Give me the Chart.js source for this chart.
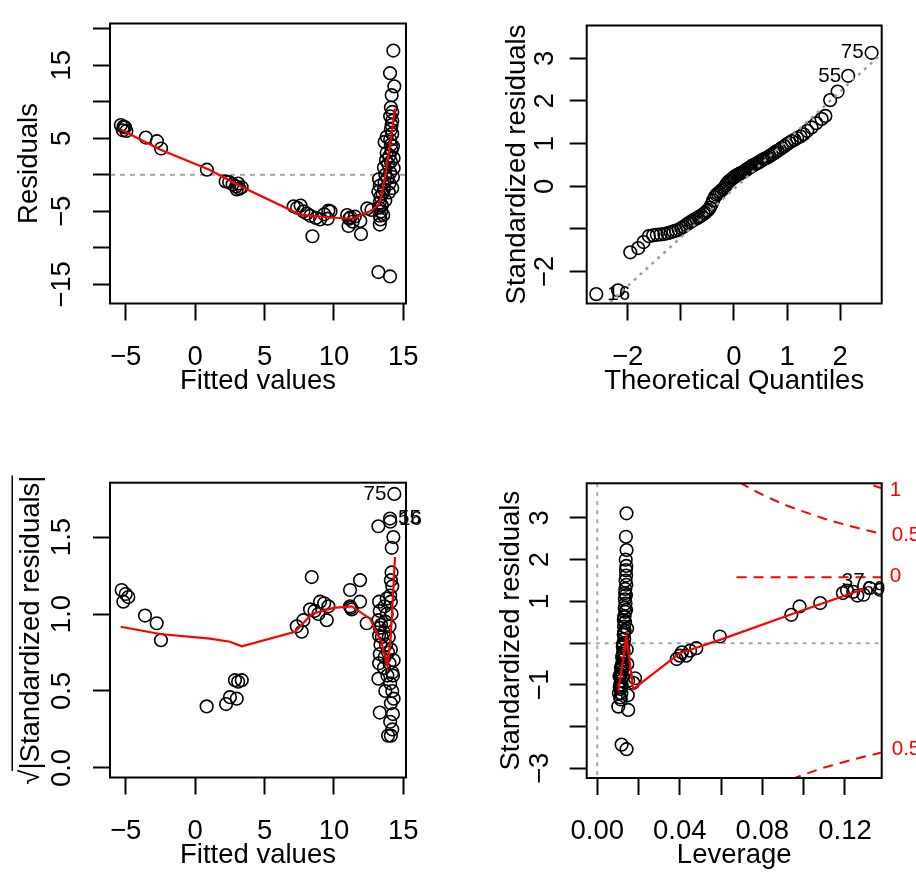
<!DOCTYPE html>
<html lang="en">
<head>
<meta charset="UTF-8">
<title>lm diagnostic plots</title>
<script src="https://cdn.jsdelivr.net/npm/chart.js@4.4.1/dist/chart.umd.min.js"></script>
<style>
  html, body { margin: 0; padding: 0; background: #fff; }
  #wrap { position: relative; width: 916px; height: 877px; overflow: hidden; }
  canvas { position: absolute; }
</style>
</head>
<body>
<div id="wrap">
  <canvas id="p1" width="458" height="438" style="left:0px;top:0px"></canvas>
  <canvas id="p2" width="458" height="438" style="left:458px;top:0px"></canvas>
  <canvas id="p3" width="458" height="439" style="left:0px;top:438px"></canvas>
  <canvas id="p4" width="458" height="439" style="left:458px;top:438px"></canvas>
</div>
<script>
// --- Residuals vs Fitted ---
const fitted1 = [-5.35, -5.2, -5.05, -4.95, -5.15, -3.55, -2.75, -2.45, 0.85, 2.2, 2.45, 2.7, 2.95, 3.1, 3.2, 3.0, 3.35,
  7.1, 7.35, 7.6, 7.8, 8.05, 8.3, 8.45, 8.7, 9.0, 9.3, 9.55, 9.75, 9.6, 10.95, 11.1, 11.2, 11.35, 11.05, 11.5,
  11.9, 11.95, 12.4, 12.7,
  13.25, 13.3, 13.2, 13.35, 13.3, 13.25, 13.4, 13.3, 13.35, 13.3, 13.45, 13.5, 13.55,
  13.6, 13.65, 13.7, 13.6, 13.75, 13.7, 13.8, 13.85, 13.9, 13.65, 13.8,
  13.95, 14.0, 14.05, 14.1, 14.0, 14.15, 14.1, 14.05, 14.2, 14.1, 14.15, 14.2, 14.05, 14.2, 14.1, 14.25, 14.3, 14.2, 14.3, 14.25,
  14.28, 14.04, 14.35, 14.16, 13.2, 14.04];
const resid1 = [6.8, 6.1, 6.5, 6.0, 6.6, 5.1, 4.6, 3.6, 0.7, -0.9, -1.0, -1.3, -1.6, -1.2, -1.9, -2.0, -1.7,
  -4.3, -4.5, -4.2, -5.0, -5.3, -5.6, -8.4, -5.9, -6.1, -5.4, -6.0, -5.0, -4.9, -5.5, -6.0, -5.8, -6.4, -7.0, -5.7,
  -6.3, -8.1, -4.6, -4.8,
  -0.6, -1.5, -2.3, -3.0, -3.8, -4.5, -5.0, -5.6, -6.1, -6.8, -4.2, -2.6, -5.5,
  -2.0, -1.0, 0.0, 1.0, 2.0, -3.5, 3.0, -0.5, 1.5, 4.5, 5.2,
  -2.4, -1.2, 0.3, 1.8, 2.6, 3.4, 4.1, 4.8, 5.6, 6.2, 6.8, 7.4, 8.0, 8.6, 9.2, -0.3, 0.9, -1.8, 2.3, 3.9,
  17.0, 13.9, 12.1, 10.9, -13.3, -13.9];
const smoothX1 = [-5.36, -2.53, 1.07, 3.23, 7.56, 9.96, 11.4, 12.6, 13.2, 13.44, 13.68, 14.04, 14.4];
const smoothY1 = [6.2, 3.47, 0.65, -1.53, -5.44, -5.87, -5.97, -5.0, -4.1, -2.83, -0.2, 4.1, 9.1];
const fitTicks = [-5, 0, 5, 10, 15];
const fitLabels = ['\u22125', '0', '5', '10', '15'];
const residTicks = [-15, -10, -5, 0, 5, 10, 15, 20];
const residLabels = ['\u221215', '', '\u22125', '', '5', '', '15', ''];

// --- Normal Q-Q ---
const theo2 = [-2.59, -2.18, -1.95, -1.80, -1.70, -1.60, -1.52, -1.45, -1.38, -1.31,
  -1.25, -1.19, -1.14, -1.09, -1.04, -0.99, -0.95, -0.90, -0.86, -0.82,
  -0.78, -0.75, -0.71, -0.67, -0.64, -0.61, -0.57, -0.54, -0.51, -0.48,
  -0.45, -0.42, -0.39, -0.36, -0.33, -0.30, -0.27, -0.24, -0.21, -0.18,
  -0.15, -0.13, -0.10, -0.07, -0.04, -0.01, 0.01, 0.04, 0.07, 0.10,
  0.13, 0.15, 0.18, 0.21, 0.24, 0.27, 0.30, 0.33, 0.36, 0.39,
  0.42, 0.45, 0.48, 0.51, 0.54, 0.57, 0.61, 0.64, 0.67, 0.71,
  0.75, 0.78, 0.82, 0.86, 0.90, 0.95, 0.99, 1.04, 1.09, 1.14,
  1.19, 1.25, 1.31, 1.38, 1.46, 1.55, 1.65, 1.72, 1.81, 1.95,
  2.15, 2.59];
const std2 = [-2.53, -2.44, -1.55, -1.45, -1.31, -1.17, -1.15, -1.14, -1.13, -1.12,
  -1.10, -1.08, -1.06, -1.04, -1.02, -0.98, -0.95, -0.91, -0.87, -0.84,
  -0.81, -0.78, -0.76, -0.73, -0.71, -0.68, -0.65, -0.62, -0.58, -0.55,
  -0.50, -0.42, -0.33, -0.25, -0.20, -0.17, -0.14, -0.10, -0.07, -0.03,
  0.02, 0.07, 0.11, 0.14, 0.17, 0.20, 0.22, 0.25, 0.27, 0.29,
  0.31, 0.32, 0.34, 0.37, 0.39, 0.42, 0.44, 0.47, 0.49, 0.51,
  0.53, 0.55, 0.57, 0.60, 0.62, 0.64, 0.66, 0.68, 0.71, 0.74,
  0.77, 0.80, 0.83, 0.86, 0.90, 0.94, 0.98, 1.02, 1.06, 1.09,
  1.13, 1.17, 1.22, 1.30, 1.38, 1.48, 1.58, 1.65, 2.02, 2.22,
  2.59, 3.13];
const qqLineX = [-2.77, 2.78];
const qqLineY = [-3.22, 3.11];
const qTicks = [-2, -1, 0, 1, 2];
const qLabels = ['\u22122', '', '0', '1', '2'];
const sTicks = [-2, -1, 0, 1, 2, 3];
const sLabels = ['\u22122', '', '0', '1', '2', '3'];

// --- Scale-Location ---
const fitted3 = [-5.29, -4.81, -5.17, -5.0, -3.61, -2.77, -2.46, 0.83, 2.23, 2.51, 3.0, 2.87, 3.36, 3.1,
  7.32, 7.68, 7.8, 8.28, 8.4, 9.0, 8.88, 9.48, 9.6, 9.3, 8.6, 11.16, 11.16, 11.28, 11.2, 11.88, 11.88, 12.36,
  13.2, 13.25, 13.3, 13.2, 13.3, 13.25, 13.35, 13.3, 13.25, 13.2, 13.3, 13.4, 13.45,
  13.6, 13.65, 13.7, 13.6, 13.75, 13.7, 13.8, 13.85, 13.9, 13.65, 13.8,
  13.95, 14.0, 14.05, 14.1, 14.0, 14.15, 14.1, 14.05, 14.2, 14.1, 14.15, 14.2, 14.05, 14.2, 14.1, 14.25, 14.3, 14.2, 14.3, 14.25,
  13.9, 14.1, 14.35, 14.04, 14.06, 14.28, 14.16];
const sqrt3 = [1.156, 1.11, 1.08, 1.13, 0.99, 0.94, 0.83, 0.40, 0.415, 0.46, 0.45, 0.57, 0.57, 0.56,
  0.92, 0.885, 0.96, 1.03, 1.24, 1.08, 1.0, 0.96, 1.05, 1.07, 1.02, 1.156, 1.05, 1.03, 1.04, 1.22, 1.08, 0.94,
  1.57, 1.08, 1.02, 0.96, 0.91, 0.86, 0.80, 0.74, 0.68, 0.58, 0.36, 0.93, 0.85,
  0.88, 0.72, 0.5, 0.65, 0.8, 0.95, 1.0, 0.6, 0.75, 1.05, 1.1,
  0.85, 0.68, 0.3, 0.77, 0.92, 1.0, 1.08, 1.12, 1.18, 1.22, 1.27, 0.5, 0.55, 0.62, 0.42, 0.35, 0.45, 0.25, 0.7, 0.6,
  0.21, 0.21, 1.78, 1.62, 1.60, 1.50, 1.43];
const smoothX3 = [-5.36, -2.53, 1.07, 2.51, 3.36, 7.2, 8.4, 9.96, 11.28, 12.6, 13.44, 13.85, 14.09, 14.4];
const smoothY3 = [0.917, 0.87, 0.84, 0.82, 0.79, 0.885, 1.0, 1.04, 1.05, 0.97, 0.81, 0.66, 0.85, 1.37];
const rootTicks = [0, 0.5, 1, 1.5];
const rootLabels = ['0.0', '0.5', '1.0', '1.5'];

// --- Residuals vs Leverage ---
const lev4 = [0.0142, 0.0139, 0.0142, 0.0138, 0.0141, 0.0139, 0.0140, 0.0137, 0.0141, 0.0136, 0.0139, 0.0134, 0.0137, 0.0140,
  0.0133, 0.0136, 0.0131, 0.0135, 0.0130, 0.0145, 0.0133, 0.0128, 0.0131, 0.0127, 0.0124, 0.0143, 0.0128, 0.0122, 0.0125,
  0.0120, 0.0146, 0.0123, 0.0115, 0.0118, 0.0121, 0.0108, 0.0183, 0.0116, 0.0150, 0.0175, 0.0119, 0.0110, 0.0113, 0.0117,
  0.0105, 0.0148, 0.0111, 0.0114, 0.0102, 0.0150, 0.0118, 0.0142,
  0.0129, 0.0126, 0.0121, 0.0117, 0.0112, 0.0109, 0.0135, 0.0132, 0.0130, 0.0125,
  0.0385, 0.0400, 0.0410, 0.0430, 0.0450, 0.0480, 0.0594, 0.0940, 0.0980, 0.1080,
  0.1190, 0.1210, 0.1240, 0.1260, 0.1290, 0.1320, 0.1370];
const std4 = [3.11, 2.55, 2.23, 2.0, 1.85, 1.75, 1.62, 1.5, 1.4, 1.3, 1.15, 1.05, 0.95, 0.8,
  0.85, 0.75, 0.62, 0.5, 0.4, 0.35, 0.3, 0.2, 0.1, 0.0, -0.1, -0.15, -0.2, -0.3, -0.4,
  -0.5, -0.5, -0.6, -0.6, -0.7, -0.8, -0.8, -0.84, -0.9, -0.9, -0.95, -1.0, -1.0, -1.1, -1.2,
  -1.2, -1.25, -1.3, -1.35, -1.52, -1.6, -2.43, -2.54,
  0.55, -0.05, -0.35, -0.55, -0.75, -1.05, 1.2, 0.65, 0.25, -0.25,
  -0.38, -0.30, -0.22, -0.30, -0.18, -0.12, 0.16, 0.68, 0.88, 0.96,
  1.20, 1.26, 1.23, 1.14, 1.16, 1.32, 1.28];
const smoothX4 = [0.0102, 0.0142, 0.0174, 0.040, 0.0594, 0.0934, 0.1305];
const smoothY4 = [-1.16, 0.16, -1.1, -0.24, 0.08, 0.68, 1.32];
const cookHalfUpX = [0.069, 0.075, 0.08, 0.09, 0.10, 0.11, 0.12, 0.13, 0.1378];
const cookHalfUpY = [3.85, 3.68, 3.56, 3.33, 3.15, 2.98, 2.84, 2.71, 2.62];
const cookOneX = [0.126, 0.13, 0.1378];
const cookOneY = [3.9, 3.84, 3.71];
const cookHalfLowX = [0.094, 0.10, 0.11, 0.12, 0.13, 0.1378];
const cookHalfLowY = [-3.26, -3.15, -2.98, -2.84, -2.71, -2.62];
const cookZeroX = [0.0675, 0.1378];
const cookZeroY = [1.58, 1.58];
const levTicks = [0, 0.02, 0.04, 0.06, 0.08, 0.10, 0.12];
const levLabels = ['0.00', '', '0.04', '', '0.08', '', '0.12'];
const srTicks = [-3, -2, -1, 0, 1, 2, 3];
const srLabels = ['\u22123', '', '\u22121', '', '1', '2', '3'];

const FONT = '"Liberation Sans", Arial, Helvetica, sans-serif';
const BIG = 27.5;
const SMALL = 20.6;
Chart.defaults.font.family = FONT;
Chart.defaults.color = '#000';

const pts = (xs, ys) => xs.map((v, i) => ({x: v, y: ys[i]}));

const circles = (xs, ys) => ({
  data: pts(xs, ys), showLine: false, order: 2,
  pointRadius: 6.3, pointBorderWidth: 1.6, pointBorderColor: '#000', pointBackgroundColor: 'rgba(0,0,0,0)'
});
const line = (xs, ys, color, dash, width) => ({
  data: pts(xs, ys), showLine: true, order: 0, pointRadius: 0, tension: 0,
  borderColor: color, borderWidth: width || 2.2, borderDash: dash || []
});

function axis(o, vertical) {
  return {
    type: 'linear', min: o.min, max: o.max,
    afterBuildTicks: s => { s.ticks = o.ticks.map(v => ({value: v})); },
    afterFit: s => { if (vertical) s.width = o.size; else s.height = o.size; },
    ticks: {
      autoSkip: false, color: '#000', padding: o.pad,
      minRotation: vertical ? 90 : 0, maxRotation: vertical ? 90 : 0,
      crossAlign: vertical ? 'center' : 'near',
      font: {size: BIG, family: FONT},
      callback: (v, i) => o.labels[i]
    },
    grid: {drawOnChartArea: false, drawTicks: true, tickLength: 17, tickWidth: 2, tickColor: '#000'},
    border: {display: false},
    title: {
      display: true, text: o.title, color: '#000',
      font: {size: BIG, family: FONT, lineHeight: 1.2},
      padding: vertical ? {top: o.tpad, bottom: 0} : {top: 0, bottom: o.tpad}
    }
  };
}

// reference lines under the points, labels and the box on top
function notes(o) {
  return {
    id: 'notes',
    beforeDatasetsDraw(chart) {
      const {ctx, chartArea: a, scales: {x, y}} = chart;
      ctx.save();
      ctx.beginPath(); ctx.rect(a.left, a.top, a.width, a.height); ctx.clip();
      (o.refs || []).forEach(r => {
        ctx.strokeStyle = r.color; ctx.lineWidth = 2; ctx.setLineDash(r.dash);
        ctx.beginPath();
        if (r.axis === 'y') {
          const py = y.getPixelForValue(r.value);
          ctx.moveTo(a.left, py); ctx.lineTo(a.right, py);
        } else {
          const px = x.getPixelForValue(r.value);
          ctx.moveTo(px, a.top); ctx.lineTo(px, a.bottom);
        }
        ctx.stroke();
      });
      ctx.restore();
    },
    afterDraw(chart) {
      const {ctx, chartArea: a, scales: {x, y}} = chart;
      ctx.save();
      ctx.textBaseline = 'middle';
      (o.texts || []).forEach(t => {
        ctx.font = SMALL + 'px ' + FONT;
        ctx.fillStyle = t.color || '#000';
        ctx.textAlign = t.align || 'center';
        const px = t.edge === 'right' ? a.right : x.getPixelForValue(t.x);
        ctx.fillText(t.text, px + (t.dx || 0), y.getPixelForValue(t.y) + (t.dy || 0));
      });
      if (o.sqrtBar) {
        // overbar of the square root in the y title
        const s = chart.scales.y;
        ctx.font = BIG + 'px ' + FONT;
        const full = ctx.measureText(s.options.title.text).width;
        const rad = ctx.measureText('\u221a').width;
        const cy = (s.top + s.bottom) / 2;
        const cx = s.left + o.sqrtBar + BIG * 0.6;
        const bx = cx - BIG * 0.7;
        ctx.strokeStyle = '#000'; ctx.lineWidth = 1.5;
        ctx.beginPath(); ctx.moveTo(bx, cy + full / 2 - rad * 0.9); ctx.lineTo(bx, cy - full / 2); ctx.stroke();
      }
      ctx.setLineDash([]);
      ctx.strokeStyle = '#000'; ctx.lineWidth = 2;
      ctx.strokeRect(a.left, a.top, a.width, a.height);
      ctx.restore();
    }
  };
}

function panel(id, o) {
  return new Chart(document.getElementById(id), {
    type: 'scatter',
    data: {datasets: o.datasets},
    options: {
      responsive: false, animation: false,
      layout: {padding: {top: o.padTop, right: o.padRight, left: 0, bottom: 0}},
      plugins: {legend: {display: false}, tooltip: {enabled: false}},
      scales: {x: axis(o.x, false), y: axis(o.y, true)}
    },
    plugins: [notes(o.notes)]
  });
}

panel('p1', {
  padTop: 9.5, padRight: 52,
  x: {min: -6.13, max: 15.19, ticks: fitTicks, labels: fitLabels, title: 'Fitted values', size: 134.5, pad: 20, tpad: 40.5},
  y: {min: -17.6, max: 20.7, ticks: residTicks, labels: residLabels, title: 'Residuals', size: 110, pad: 7, tpad: 12.5},
  datasets: [circles(fitted1, resid1), line(smoothX1, smoothY1, '#ff0000')],
  notes: {refs: [{axis: 'y', value: 0, color: '#a6a6a6', dash: [5, 5]}]}
});

panel('p2', {
  padTop: 9.5, padRight: 34.3,
  x: {min: -2.77, max: 2.78, ticks: qTicks, labels: qLabels, title: 'Theoretical Quantiles', size: 134.5, pad: 20, tpad: 40.5},
  y: {min: -2.75, max: 3.77, ticks: sTicks, labels: sLabels, title: 'Standardized residuals', size: 128.7, pad: 9, tpad: 43},
  datasets: [circles(theo2, std2), line(qqLineX, qqLineY, '#9a9a9a', [3, 5], 2.5)],
  notes: {texts: [
    {x: 2.59, y: 3.13, text: '75', align: 'right', dx: -8},
    {x: 2.15, y: 2.59, text: '55', align: 'right', dx: -7},
    {x: -2.59, y: -2.53, text: '16', align: 'left', dx: 11}
  ]}
});

panel('p3', {
  padTop: 44.7, padRight: 52,
  x: {min: -6.13, max: 15.19, ticks: fitTicks, labels: fitLabels, title: 'Fitted values', size: 99.5, pad: 20, tpad: 5.5},
  y: {min: -0.062, max: 1.853, ticks: rootTicks, labels: rootLabels, title: '\u221a|Standardized residuals|', size: 110, pad: 11, tpad: 15},
  datasets: [circles(fitted3, sqrt3), line(smoothX3, smoothY3, '#ff0000')],
  notes: {sqrtBar: 15, texts: [
    {x: 14.35, y: 1.78, text: '75', align: 'right', dx: -8},
    {x: 14.04, y: 1.62, text: '55', align: 'left', dx: 8},
    {x: 14.04, y: 1.62, text: '16', align: 'left', dx: 9, dy: 1}
  ]}
});

panel('p4', {
  padTop: 45.3, padRight: 34.3,
  x: {min: -0.0051, max: 0.1378, ticks: levTicks, labels: levLabels, title: 'Leverage', size: 99, pad: 20, tpad: 5},
  y: {min: -3.23, max: 3.83, ticks: srTicks, labels: srLabels, title: 'Standardized residuals', size: 128.7, pad: 14, tpad: 37},
  datasets: [
    circles(lev4, std4),
    line(smoothX4, smoothY4, '#ff0000'),
    line(cookHalfUpX, cookHalfUpY, '#ff0000', [10, 7], 2),
    line(cookOneX, cookOneY, '#ff0000', [10, 7], 2),
    line(cookHalfLowX, cookHalfLowY, '#ff0000', [10, 7], 2),
    line(cookZeroX, cookZeroY, '#ff0000', [10, 7], 2)
  ],
  notes: {
    refs: [{axis: 'y', value: 0, color: '#a6a6a6', dash: [4, 5]}, {axis: 'x', value: 0, color: '#a6a6a6', dash: [4, 5]}],
    texts: [
      {x: 0.124, y: 1.23, text: '37', dy: -11},
      {x: 0.137, y: 1.28, text: '69', dx: -6},
      {edge: 'right', y: 3.67, text: '1', align: 'left', dx: 8, color: '#ff0000'},
      {edge: 'right', y: 2.59, text: '0.5', align: 'left', dx: 10, color: '#ff0000'},
      {edge: 'right', y: 1.59, text: '0', align: 'left', dx: 8, color: '#ff0000'},
      {edge: 'right', y: -2.55, text: '0.5', align: 'left', dx: 10, color: '#ff0000'}
    ]
  }
});
</script>
</body>
</html>
